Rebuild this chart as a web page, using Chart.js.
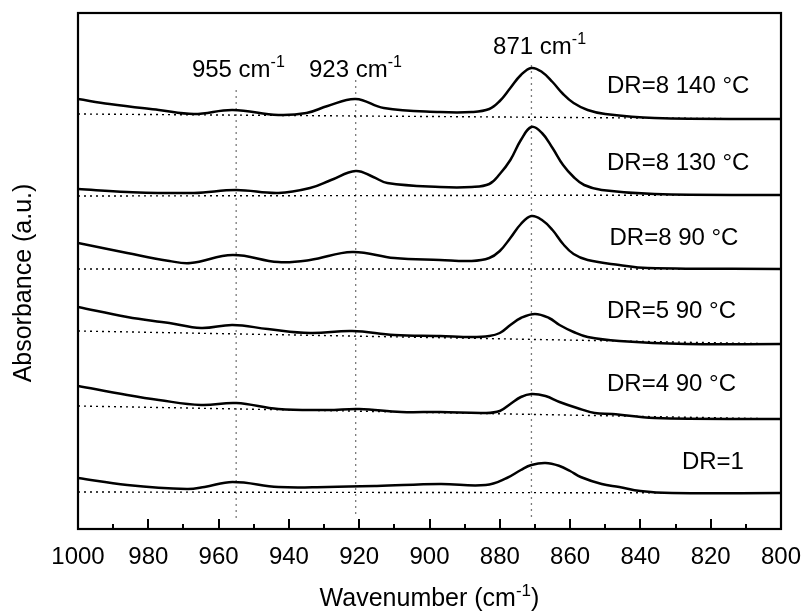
<!DOCTYPE html>
<html>
<head>
<meta charset="utf-8">
<script src="https://cdn.jsdelivr.net/npm/chart.js@4.4.0/dist/chart.umd.min.js"></script>
<style>
  html, body { margin: 0; padding: 0; background: #fff; }
  #wrap { width: 801px; height: 612px; }
</style>
</head>
<body>
<div id="wrap"><canvas id="irChart" width="801" height="612"></canvas></div>
<script>
// IR spectra, wavenumber (cm-1) vs absorbance (a.u., stacked with offsets)
var wnDR1 = [1000, 986, 969, 964, 956, 943, 929, 915, 897, 884, 878, 874, 871, 867, 863, 860, 857, 851, 846, 840, 831, 800];
var absDR1 = [0.51, 0.44, 0.40, 0.42, 0.47, 0.42, 0.42, 0.43, 0.45, 0.44, 0.51, 0.59, 0.64, 0.66, 0.63, 0.58, 0.52, 0.45, 0.42, 0.38, 0.36, 0.36];

var wnDR4 = [1000, 986, 977, 965, 955, 943, 929, 920, 908, 897, 884, 880, 877, 874, 871, 867, 863, 858, 853, 848, 836, 800];
var absDR4 = [1.43, 1.34, 1.29, 1.24, 1.26, 1.20, 1.19, 1.20, 1.17, 1.17, 1.16, 1.18, 1.25, 1.32, 1.35, 1.33, 1.27, 1.21, 1.16, 1.15, 1.11, 1.10];

var wnDR5 = [1000, 986, 974, 965, 956, 946, 934, 922, 910, 897, 888, 883, 880, 877, 874, 870, 866, 863, 859, 855, 846, 827, 800];
var absDR5 = [2.22, 2.12, 2.06, 2.01, 2.04, 2.00, 1.96, 1.98, 1.94, 1.93, 1.92, 1.93, 1.96, 2.04, 2.11, 2.15, 2.11, 2.04, 1.97, 1.92, 1.88, 1.85, 1.85];

var wnDR8a = [1000, 986, 974, 968, 956, 943, 934, 922, 910, 897, 888, 883, 880, 877, 874, 871, 868, 865, 862, 859, 855, 846, 838, 800];
var absDR8a = [2.86, 2.76, 2.68, 2.66, 2.74, 2.67, 2.69, 2.77, 2.71, 2.69, 2.68, 2.71, 2.78, 2.91, 3.05, 3.13, 3.09, 2.99, 2.85, 2.75, 2.69, 2.64, 2.61, 2.60];

var wnDR8b = [1000, 986, 967, 955, 943, 934, 928, 921, 916, 912, 897, 888, 883, 880, 877, 874, 871, 868, 865, 862, 859, 856, 851, 836, 800];
var absDR8b = [3.40, 3.37, 3.36, 3.39, 3.36, 3.41, 3.49, 3.58, 3.52, 3.46, 3.42, 3.42, 3.45, 3.55, 3.69, 3.89, 4.02, 3.96, 3.81, 3.64, 3.52, 3.44, 3.39, 3.35, 3.34];

var wnDR8c = [1000, 991, 977, 967, 956, 943, 935, 929, 921, 913, 897, 888, 883, 880, 877, 874, 871, 868, 865, 862, 859, 855, 850, 836, 800];
var absDR8c = [4.30, 4.25, 4.19, 4.15, 4.19, 4.14, 4.16, 4.23, 4.30, 4.21, 4.17, 4.17, 4.20, 4.28, 4.41, 4.54, 4.61, 4.57, 4.47, 4.35, 4.26, 4.19, 4.15, 4.11, 4.10];

// dotted baselines (value at 1000 and at 800), same order as the spectra
var baseLeft = [0.37, 1.23, 1.98, 2.60, 3.33, 4.15];
var baseRight = [0.36, 1.10, 1.85, 2.60, 3.34, 4.10];

// band markers
var markerWn = [955, 921, 871];
var markerTop = [4.39, 4.49, 4.64];
var markerBottom = 0.11;

var peakNames = ['955 cm', '923 cm', '871 cm'];
var sampleNames = ['DR=1', 'DR=4 90 \u00B0C', 'DR=5 90 \u00B0C', 'DR=8 90 \u00B0C', 'DR=8 130 \u00B0C', 'DR=8 140 \u00B0C'];

var xTicks = [1000, 980, 960, 940, 920, 900, 880, 860, 840, 820, 800];

var FONT = '"Liberation Sans", Arial, Helvetica, sans-serif';

function pts(xs, ys) {
    return xs.map(function (x, i) { return { x: x, y: ys[i] }; });
}

var spectra = [
    [wnDR1, absDR1], [wnDR4, absDR4], [wnDR5, absDR5],
    [wnDR8a, absDR8a], [wnDR8b, absDR8b], [wnDR8c, absDR8c]
];

var datasets = [];
spectra.forEach(function (s, i) {
    datasets.push({
        label: sampleNames[i],
        data: pts(s[0], s[1]),
        borderColor: '#000',
        borderWidth: 2.5,
        tension: 0.4,
        pointRadius: 0,
        fill: false
    });
});
baseLeft.forEach(function (v, i) {
    datasets.push({
        label: 'base ' + i,
        data: [{ x: 1000, y: v }, { x: 800, y: baseRight[i] }],
        borderColor: '#000',
        borderWidth: 1.4,
        borderDash: [2, 4],
        pointRadius: 0,
        fill: false
    });
});
markerWn.forEach(function (w, i) {
    datasets.push({
        label: 'marker ' + w,
        data: [{ x: w, y: markerTop[i] }, { x: w, y: markerBottom }],
        borderColor: '#7a7a7a',
        borderWidth: 1.3,
        borderDash: [2, 4],
        pointRadius: 0,
        fill: false
    });
});

// text with a superscript part
function drawRich(ctx, parts, x, y, align, size) {
    var supSize = Math.round(size * 0.68);
    var w = 0;
    parts.forEach(function (p) {
        ctx.font = (p.sup ? supSize : size) + 'px ' + FONT;
        p.w = ctx.measureText(p.t).width;
        w += p.w;
    });
    var cx = x;
    if (align === 'center') cx = x - w / 2;
    if (align === 'right') cx = x - w;
    ctx.textAlign = 'left';
    ctx.textBaseline = 'alphabetic';
    parts.forEach(function (p) {
        ctx.font = (p.sup ? supSize : size) + 'px ' + FONT;
        ctx.fillText(p.t, cx, p.sup ? y - size * 0.4 : y);
        cx += p.w;
    });
}

var decoPlugin = {
    id: 'irDeco',
    afterDraw: function (chart, args, opts) {
        var ctx = chart.ctx, a = chart.chartArea;
        var xs = chart.scales.x, ys = chart.scales.y;
        ctx.save();
        ctx.fillStyle = '#000';
        ctx.strokeStyle = '#000';

        // inner tick marks on the bottom axis
        ctx.lineWidth = 2;
        for (var v = 800; v <= 1000; v += 10) {
            var px = Math.round(xs.getPixelForValue(v));
            var len = (v % 20 === 0) ? 10 : 5;
            ctx.beginPath();
            ctx.moveTo(px, a.bottom);
            ctx.lineTo(px, a.bottom - len);
            ctx.stroke();
        }

        // frame
        ctx.lineWidth = 2.2;
        ctx.strokeRect(a.left, a.top, a.right - a.left, a.bottom - a.top);

        // band labels
        opts.peaks.forEach(function (p, i) {
            drawRich(ctx, [{ t: peakNames[i] }, { t: '-1', sup: true }],
                xs.getPixelForValue(p.x), ys.getPixelForValue(p.y), 'left', 24);
        });

        // sample labels
        opts.samples.forEach(function (p, i) {
            drawRich(ctx, [{ t: sampleNames[i] }],
                xs.getPixelForValue(p.x), ys.getPixelForValue(p.y), 'left', 24);
        });

        // axis titles
        drawRich(ctx, [{ t: 'Wavenumber (cm' }, { t: '-1', sup: true }, { t: ')' }],
            (a.left + a.right) / 2, 606, 'center', 25);

        ctx.save();
        ctx.translate(31, 283);
        ctx.rotate(-Math.PI / 2);
        drawRich(ctx, [{ t: 'Absorbance (a.u.)' }], 0, 0, 'center', 25);
        ctx.restore();

        ctx.restore();
    }
};

var config = {
    type: 'line',
    data: { datasets: datasets },
    options: {
        responsive: false,
        animation: false,
        layout: { padding: { top: 13, right: 20, left: 0, bottom: 0 } },
        plugins: {
            legend: { display: false },
            tooltip: { enabled: false },
            irDeco: {
                peaks: [{ x: 967.6, y: 4.52 }, { x: 934.3, y: 4.52 }, { x: 881.9, y: 4.75 }],
                samples: [
                    { x: 828.2, y: 0.60 }, { x: 849.5, y: 1.38 }, { x: 849.5, y: 2.11 },
                    { x: 848.8, y: 2.84 }, { x: 849.5, y: 3.59 }, { x: 849.5, y: 4.36 }
                ]
            }
        },
        scales: {
            x: {
                type: 'linear',
                reverse: true,
                min: 800,
                max: 1000,
                grid: { display: false },
                border: { display: false },
                afterBuildTicks: function (s) {
                    s.ticks = xTicks.map(function (v) { return { value: v }; });
                },
                ticks: {
                    color: '#000',
                    font: { family: FONT, size: 24 },
                    padding: 6,
                    maxRotation: 0,
                    autoSkip: false,
                    callback: function (v) { return String(v); }
                },
                afterFit: function (s) {
                    s.height = 83;
                    s.paddingLeft = 0;
                    s.paddingRight = 0;
                }
            },
            y: {
                min: 0,
                max: 5.16,
                grid: { display: false },
                border: { display: false },
                ticks: { display: false },
                afterFit: function (s) { s.width = 78; }
            }
        }
    },
    plugins: [decoPlugin]
};

var irChart = new Chart(document.getElementById('irChart'), config);
</script>
</body>
</html>
